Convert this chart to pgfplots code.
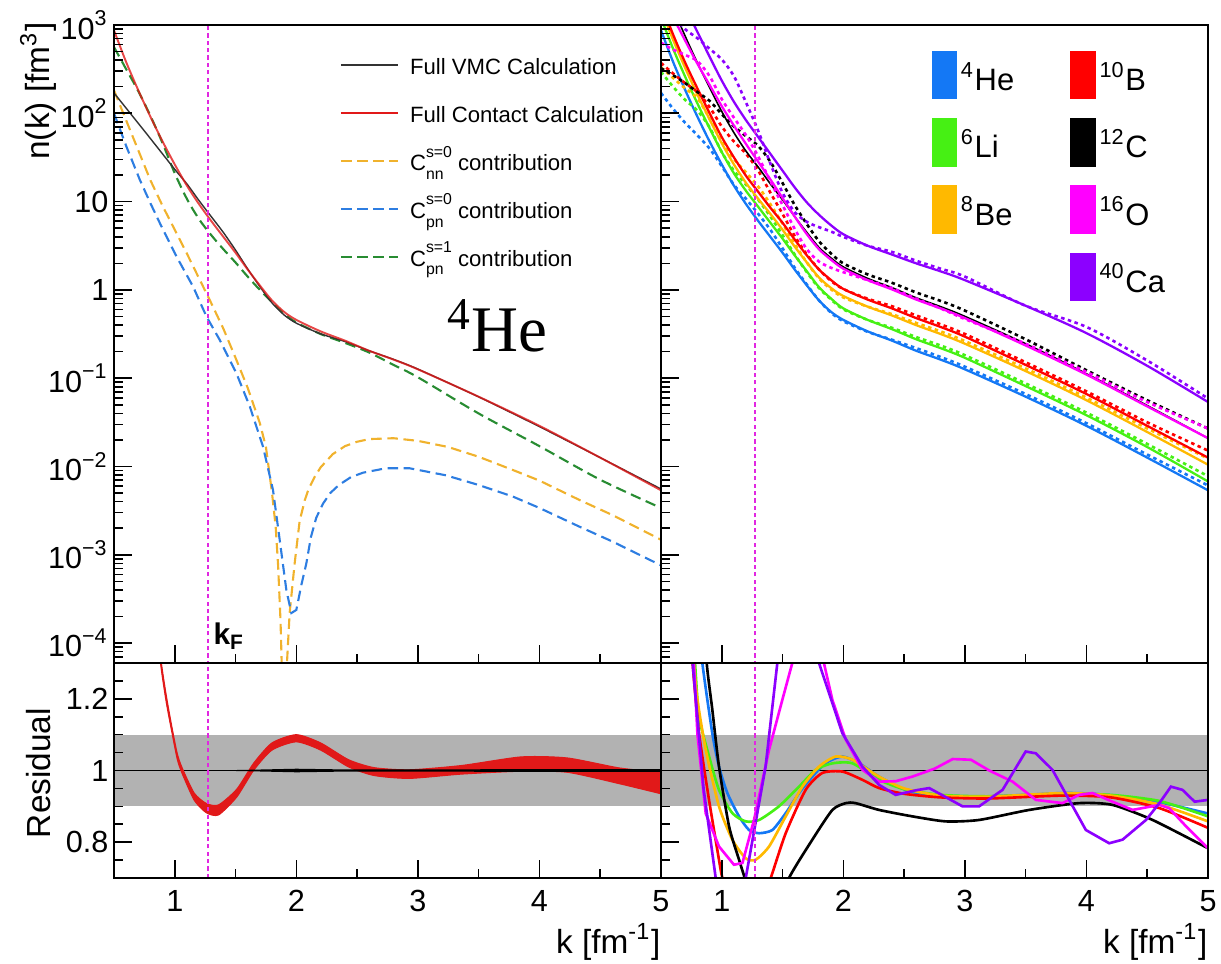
\documentclass[border=0pt]{standalone}
\usepackage{fontspec}
\setmainfont{Liberation Sans}
\newfontfamily\heserif{Liberation Serif}
\usepackage{pgfplots}
\pgfplotsset{compat=1.18}

\definecolor{vmcgray}{RGB}{50,50,50}
\definecolor{ctred}{RGB}{225,25,25}
\definecolor{dorange}{RGB}{240,178,45}
\definecolor{dblue}{RGB}{45,125,225}
\definecolor{dgreen}{RGB}{40,140,50}
\definecolor{kfmag}{RGB}{225,40,225}
\definecolor{bandgray}{RGB}{178,178,178}
\definecolor{nHe}{RGB}{20,120,245}
\definecolor{nLi}{RGB}{70,240,20}
\definecolor{nBe}{RGB}{255,185,0}
\definecolor{nB}{RGB}{255,0,0}
\definecolor{nC}{RGB}{0,0,0}
\definecolor{nO}{RGB}{255,0,255}
\definecolor{nCa}{RGB}{140,0,255}

% legend label C with stacked super- and subscript
\newcommand{\Cst}[2]{C\makebox[0pt][l]{\raisebox{-0.38em}{\fontsize{4.5}{5}\selectfont #2}}\raisebox{0.62em}{\fontsize{4.5}{5}\selectfont #1}}

\pgfplotsset{
  panel/.style={
    scale only axis, width=54.7mm,
    xmin=0.5, xmax=5,
    axis on top,
    axis line style={line width=0.45pt},
    tick style={black, line width=0.45pt},
    tick align=inside,
    major tick length=1.8mm, minor tick length=0.9mm,
    xtick pos=bottom, ytick pos=left,
    xtick={1,2,3,4,5},
    minor xtick={1.5,2.5,3.5,4.5},
    ticklabel style={font=\fontsize{8.7}{10}\selectfont},
    yticklabel style={inner xsep=0.5mm},
    /pgf/number format/assume math mode=true,
    ylabel style={font=\fontsize{9.5}{11}\selectfont, inner sep=0pt},
  },
  logpanel/.style={panel, height=63.8mm,
    ymin=-4.226, ymax=3,
    ytick={-4,-3,-2,-1,0,1,2,3},
    minor ytick={-4.222,-4.155,-4.097,-4.046,
      -3.699,-3.523,-3.398,-3.301,-3.222,-3.155,-3.097,-3.046,
      -2.699,-2.523,-2.398,-2.301,-2.222,-2.155,-2.097,-2.046,
      -1.699,-1.523,-1.398,-1.301,-1.222,-1.155,-1.097,-1.046,
      -0.699,-0.523,-0.398,-0.301,-0.222,-0.155,-0.097,-0.046,
      0.301,0.477,0.602,0.699,0.778,0.845,0.903,0.954,
      1.301,1.477,1.602,1.699,1.778,1.845,1.903,1.954,
      2.301,2.477,2.602,2.699,2.778,2.845,2.903,2.954},
    xticklabels={},
  },
  respanel/.style={panel, height=21.5mm,
    ymin=0.7, ymax=1.3,
    ytick={0.8,1,1.2},
    minor ytick={0.75,0.85,0.9,0.95,1.05,1.1,1.15,1.25},
    xlabel={k [fm\textsuperscript{-1}]},
    xlabel style={font=\fontsize{9.5}{11}\selectfont, at={(axis description cs:1,-0.349)}, anchor=base east, inner sep=0pt},
  },
  kfline/.style={kfmag, line width=0.6pt, dash pattern=on 1.2pt off 0.9pt},
  dsh/.style={line width=0.6pt, dash pattern=on 3pt off 1.6pt},
  sol/.style={line width=0.65pt, smooth, tension=0.5},
  dot/.style={line width=0.75pt, dash pattern=on 1pt off 1pt, smooth, tension=0.5},
  res/.style={line width=0.75pt},
}

\begin{document}
\begin{tikzpicture}

% ---------------- top left: 4He momentum distribution ----------------
\begin{axis}[logpanel, at={(11.4mm,30mm)}, anchor=south west,
  yticklabels={10\textsuperscript{−4},10\textsuperscript{−3},10\textsuperscript{−2},10\textsuperscript{−1},1,10,10\textsuperscript{2},10\textsuperscript{3}},
  ylabel={n(k) [fm\textsuperscript{3}]},
  ylabel style={at={(axis description cs:-0.138,1.005)}, anchor=east},
  legend image code/.code={\draw[#1] (0mm,0mm) -- (5.7mm,0mm);},
  legend cell align=left,
  legend style={at={(axis description cs:0.413,0.9577)}, anchor=north west,
    draw=none, fill=none, inner sep=0pt, outer sep=0pt,
    font=\fontsize{6.3}{7}\selectfont, row sep=2.19mm, column sep=0.8mm,
    nodes={inner sep=0.3mm, text height=2.0mm, text depth=0pt}},
]
\addlegendimage{vmcgray, line width=0.45pt}
\addlegendentry{Full VMC Calculation}
\addlegendimage{ctred, line width=0.45pt}
\addlegendentry{Full Contact Calculation}
\addlegendimage{dorange, dsh}
\addlegendentry{\Cst{s=0}{nn} contribution}
\addlegendimage{dblue, dsh}
\addlegendentry{\Cst{s=0}{pn} contribution}
\addlegendimage{dgreen, dsh}
\addlegendentry{\Cst{s=1}{pn} contribution}

% C_pn s=1
\addplot[dgreen, dsh, smooth, tension=0.5, forget plot] coordinates {
(0.5,2.75)(0.6,2.50)(0.7,2.25)(0.8,1.97)(0.9,1.66)(1.0,1.32)(1.1,1.03)(1.2,0.80)(1.3,0.62)(1.4,0.46)(1.5,0.31)(1.6,0.15)(1.7,0.0)(1.8,-0.14)(1.9,-0.27)(2.0,-0.37)(2.2,-0.50)(2.4,-0.60)(2.6,-0.71)(2.8,-0.85)(3.0,-0.99)(3.5,-1.40)(4.0,-1.77)(4.5,-2.15)(5.0,-2.47)};
% C_nn s=0
\addplot[dorange, dsh, forget plot] coordinates {
(0.5,2.26)(0.6,1.92)(0.7,1.58)(0.8,1.24)(0.9,0.95)(1.0,0.68)(1.1,0.41)(1.2,0.13)(1.3,-0.15)(1.4,-0.44)(1.5,-0.77)(1.6,-1.11)(1.7,-1.51)(1.75,-1.78)(1.8,-2.3)(1.83,-2.68)(1.85,-3.12)(1.87,-3.75)(1.895,-5)(1.92,-4.3)(1.945,-3.66)(1.986,-3.10)(2.027,-2.62)(2.07,-2.38)(2.1,-2.26)(2.15,-2.12)(2.2,-2.01)(2.3,-1.86)(2.4,-1.77)(2.5,-1.72)(2.6,-1.69)(2.8,-1.68)(3.0,-1.71)(3.25,-1.78)(3.5,-1.89)(3.8,-2.05)(4.0,-2.16)(4.33,-2.38)(4.6,-2.55)(5.0,-2.83)};
% C_pn s=0
\addplot[dblue, dsh, forget plot] coordinates {
(0.5,2.0)(0.6,1.63)(0.713,1.245)(0.8,0.98)(0.878,0.754)(1.015,0.376)(1.151,0.036)(1.261,-0.303)(1.37,-0.567)(1.507,-0.945)(1.617,-1.32)(1.726,-1.776)(1.808,-2.266)(1.863,-2.83)(1.918,-3.40)(1.959,-3.66)(2.0,-3.625)(2.04,-3.35)(2.082,-3.10)(2.12,-2.80)(2.164,-2.58)(2.22,-2.42)(2.28,-2.30)(2.35,-2.21)(2.45,-2.12)(2.55,-2.07)(2.739,-2.02)(2.93,-2.02)(3.23,-2.10)(3.5,-2.21)(3.78,-2.34)(4.0,-2.47)(4.326,-2.68)(4.6,-2.85)(5.0,-3.12)};
% full VMC
\addplot[vmcgray, line width=0.4pt, smooth, tension=0.4, forget plot] coordinates {
(0.5,2.23)(0.75,1.80)(1.0,1.365)(1.1,1.20)(1.2,1.01)(1.3,0.83)(1.4,0.65)(1.5,0.45)(1.6,0.237)(1.7,0.037)(1.8,-0.148)(1.9,-0.285)(2.0,-0.377)(2.2,-0.498)(2.4,-0.585)(2.6,-0.69)(2.8,-0.787)(3.0,-0.897)(3.5,-1.212)(4.0,-1.549)(4.5,-1.90)(5.0,-2.255)};
% full contact
\addplot[ctred, line width=0.55pt, opacity=0.8, smooth, tension=0.5, forget plot] coordinates {
(0.5,2.94)(0.6,2.58)(0.7,2.26)(0.8,1.96)(0.9,1.68)(1.0,1.42)(1.1,1.18)(1.2,0.97)(1.3,0.78)(1.4,0.60)(1.5,0.42)(1.6,0.23)(1.7,0.05)(1.8,-0.12)(1.9,-0.25)(2.0,-0.34)(2.2,-0.47)(2.4,-0.575)(2.6,-0.69)(2.8,-0.79)(3.0,-0.90)(3.5,-1.21)(4.0,-1.54)(4.5,-1.90)(5.0,-2.27)};
\addplot[kfline, forget plot] coordinates {(1.27,-5)(1.27,4)};
\node[anchor=base west, inner sep=0pt, font=\fontsize{8.5}{10}\selectfont\bfseries] at (axis cs:1.313,-4.02) {k\textsubscript{F}};
\node[anchor=base west, inner sep=0pt, font=\heserif\fontsize{18.5}{20}\selectfont] at (axis cs:3.234,-0.70) {\textsuperscript{4}He};
\end{axis}

% ---------------- bottom left: residual ----------------
\begin{axis}[respanel, at={(11.4mm,8.5mm)}, anchor=south west,
  ylabel={Residual},
  ylabel style={at={(axis description cs:-0.138,0.488)}, anchor=center},
]
\addplot[fill=bandgray, draw=none] coordinates {(0.5,0.9)(5,0.9)(5,1.1)(0.5,1.1)};
\addplot[black, line width=0.4pt] coordinates {(0.5,1)(5,1)};
\addplot[fill=ctred, draw=ctred, line width=0.3pt, smooth, tension=0.4] coordinates {
(0.84,1.46)(0.886,1.31)(0.93,1.21)(0.973,1.128)(1.02,1.048)(1.06,1.008)(1.16,0.937)(1.26,0.908)(1.36,0.904)(1.51,0.948)(1.65,1.021)(1.80,1.077)(2.0,1.10)(2.2,1.077)(2.43,1.03)(2.64,1.008)(2.93,1.002)(3.36,1.014)(3.85,1.038)(4.23,1.035)(4.66,1.007)(5.0,0.995)(5.05,0.99)
(5.05,0.93)(5.0,0.935)(4.66,0.963)(4.23,0.995)(3.85,0.998)(3.36,0.99)(2.93,0.978)(2.64,0.986)(2.43,1.01)(2.2,1.057)(2.0,1.08)(1.80,1.057)(1.65,1.001)(1.51,0.926)(1.36,0.876)(1.26,0.882)(1.16,0.917)(1.06,0.992)(1.02,1.032)(0.973,1.112)(0.93,1.19)(0.886,1.29)(0.84,1.44)};
\addplot[fill=black, draw=none] coordinates {
(1.3,1.0)(1.6,1.002)(2.0,1.005)(2.4,1.003)(3.0,1.003)(4.0,1.004)(5.0,1.004)
(5.0,0.996)(4.0,0.996)(3.0,0.997)(2.4,0.997)(2.0,0.995)(1.6,0.998)(1.3,1.0)};
\addplot[kfline] coordinates {(1.27,0)(1.27,2)};
\end{axis}

% ---------------- top right: all nuclei ----------------
\begin{axis}[logpanel, at={(66.1mm,30mm)}, anchor=south west,
  yticklabels={},
  legend columns=2,
  legend cell align=left,
  legend image code/.code={\fill[#1] (0mm,-2.35mm) rectangle (2.4mm,2.35mm);},
  legend style={at={(axis description cs:0.4945,0.9592)}, anchor=north west,
    draw=none, fill=none, inner sep=0pt, outer sep=0pt,
    font=\fontsize{8.8}{10}\selectfont, row sep=1.88mm, column sep=0.1mm,
    nodes={inner sep=0.3mm, text height=3.1mm, text depth=0pt},
    /tikz/column 2/.style={column sep=5.3mm}},
]
\addlegendimage{nHe}\addlegendentry{\textsuperscript{4}He}
\addlegendimage{nB}\addlegendentry{\textsuperscript{10}B}
\addlegendimage{nLi}\addlegendentry{\textsuperscript{6}Li}
\addlegendimage{nC}\addlegendentry{\textsuperscript{12}C}
\addlegendimage{nBe}\addlegendentry{\textsuperscript{8}Be}
\addlegendimage{nO}\addlegendentry{\textsuperscript{16}O}
\addlegendimage{empty legend}\addlegendentry{}
\addlegendimage{nCa}\addlegendentry{\textsuperscript{40}Ca}

% 4He
\addplot[nHe, dot, forget plot] coordinates {
(0.5,2.23)(0.6,2.05)(0.7,1.89)(0.8,1.75)(0.9,1.60)(1.0,1.40)(1.1,1.19)(1.2,1.03)(1.3,0.86)(1.4,0.68)(1.5,0.47)(1.6,0.25)(1.7,0.06)(1.8,-0.12)(1.9,-0.26)(2.0,-0.355)(2.2,-0.475)(2.4,-0.565)(2.6,-0.66)(2.8,-0.76)(3.0,-0.87)(3.5,-1.18)(4.0,-1.51)(4.5,-1.865)(5.0,-2.215)};
\addplot[nHe, sol, forget plot] coordinates {
(0.5,2.94)(0.6,2.58)(0.7,2.26)(0.8,1.96)(0.9,1.68)(1.0,1.42)(1.1,1.18)(1.2,0.97)(1.3,0.78)(1.4,0.60)(1.5,0.42)(1.6,0.23)(1.7,0.05)(1.8,-0.12)(1.9,-0.25)(2.0,-0.34)(2.2,-0.47)(2.4,-0.575)(2.6,-0.69)(2.8,-0.79)(3.0,-0.90)(3.5,-1.21)(4.0,-1.54)(4.5,-1.90)(5.0,-2.27)};
% 6Li
\addplot[nLi, dot, forget plot] coordinates {
(0.5,2.47)(0.6,2.30)(0.7,2.15)(0.8,2.03)(0.9,1.84)(1.0,1.56)(1.1,1.35)(1.2,1.19)(1.3,1.02)(1.4,0.83)(1.5,0.62)(1.6,0.40)(1.7,0.20)(1.8,0.02)(1.9,-0.11)(2.0,-0.22)(2.2,-0.34)(2.4,-0.43)(2.6,-0.535)(2.8,-0.63)(3.0,-0.74)(3.5,-1.06)(4.0,-1.39)(4.5,-1.745)(5.0,-2.11)};
\addplot[nLi, sol, forget plot] coordinates {
(0.5,3.08)(0.6,2.73)(0.7,2.41)(0.8,2.11)(0.9,1.83)(1.0,1.56)(1.1,1.32)(1.2,1.12)(1.3,0.94)(1.4,0.76)(1.5,0.58)(1.6,0.39)(1.7,0.21)(1.8,0.03)(1.9,-0.10)(2.0,-0.21)(2.2,-0.34)(2.4,-0.445)(2.6,-0.56)(2.8,-0.66)(3.0,-0.77)(3.5,-1.09)(4.0,-1.42)(4.5,-1.78)(5.0,-2.17)};
% 8Be
\addplot[nBe, dot, forget plot] coordinates {
(0.5,2.52)(0.6,2.40)(0.7,2.28)(0.8,2.17)(0.9,1.94)(1.0,1.68)(1.1,1.48)(1.2,1.33)(1.3,1.17)(1.4,0.97)(1.5,0.75)(1.6,0.52)(1.7,0.31)(1.8,0.13)(1.9,0.005)(2.0,-0.086)(2.2,-0.19)(2.4,-0.275)(2.6,-0.375)(2.8,-0.47)(3.0,-0.58)(3.5,-0.89)(4.0,-1.22)(4.5,-1.57)(5.0,-1.91)};
\addplot[nBe, sol, forget plot] coordinates {
(0.5,3.18)(0.6,2.83)(0.7,2.51)(0.8,2.21)(0.9,1.93)(1.0,1.66)(1.1,1.42)(1.2,1.21)(1.3,1.03)(1.4,0.86)(1.5,0.68)(1.6,0.49)(1.7,0.31)(1.8,0.14)(1.9,0.02)(2.0,-0.07)(2.2,-0.19)(2.4,-0.29)(2.6,-0.40)(2.8,-0.50)(3.0,-0.61)(3.5,-0.92)(4.0,-1.25)(4.5,-1.61)(5.0,-1.98)};
% 10B
\addplot[nB, dot, forget plot] coordinates {
(0.5,2.57)(0.6,2.45)(0.7,2.34)(0.8,2.24)(0.9,2.07)(1.0,1.85)(1.1,1.68)(1.2,1.54)(1.3,1.35)(1.4,1.10)(1.5,0.86)(1.6,0.61)(1.7,0.40)(1.8,0.23)(1.9,0.10)(2.0,0.01)(2.2,-0.10)(2.4,-0.185)(2.6,-0.29)(2.8,-0.39)(3.0,-0.50)(3.5,-0.82)(4.0,-1.15)(4.5,-1.50)(5.0,-1.82)};
\addplot[nB, sol, forget plot] coordinates {
(0.5,3.24)(0.6,2.89)(0.7,2.57)(0.8,2.28)(0.9,2.00)(1.0,1.73)(1.1,1.50)(1.2,1.29)(1.3,1.11)(1.4,0.93)(1.5,0.76)(1.6,0.57)(1.7,0.39)(1.8,0.23)(1.9,0.11)(2.0,0.01)(2.2,-0.11)(2.4,-0.21)(2.6,-0.32)(2.8,-0.42)(3.0,-0.53)(3.5,-0.85)(4.0,-1.18)(4.5,-1.54)(5.0,-1.90)};
% 12C
\addplot[nC, dot, forget plot] coordinates {
(0.5,2.51)(0.6,2.43)(0.7,2.34)(0.8,2.24)(0.9,2.14)(1.0,1.99)(1.1,1.85)(1.2,1.74)(1.3,1.63)(1.4,1.45)(1.5,1.21)(1.6,0.96)(1.7,0.745)(1.8,0.55)(1.9,0.41)(2.0,0.30)(2.2,0.175)(2.4,0.08)(2.6,-0.03)(2.8,-0.125)(3.0,-0.235)(3.5,-0.56)(4.0,-0.91)(4.5,-1.25)(5.0,-1.57)};
\addplot[nC, line width=0.45pt, smooth, tension=0.5, forget plot] coordinates {
(0.5,3.54)(0.6,3.19)(0.7,2.87)(0.8,2.57)(0.9,2.29)(1.0,2.02)(1.1,1.78)(1.2,1.57)(1.3,1.39)(1.4,1.20)(1.5,1.02)(1.6,0.83)(1.7,0.65)(1.8,0.48)(1.9,0.36)(2.0,0.26)(2.2,0.13)(2.4,0.025)(2.6,-0.09)(2.8,-0.19)(3.0,-0.30)(3.5,-0.61)(4.0,-0.95)(4.5,-1.31)(5.0,-1.68)};
% 16O
\addplot[nO, dot, forget plot] coordinates {
(0.5,2.80)(0.6,2.72)(0.7,2.66)(0.8,2.59)(0.9,2.42)(1.0,2.16)(1.1,1.95)(1.2,1.75)(1.3,1.51)(1.4,1.23)(1.5,0.96)(1.6,0.69)(1.7,0.46)(1.8,0.32)(1.9,0.25)(2.0,0.20)(2.2,0.11)(2.4,0.02)(2.6,-0.10)(2.8,-0.21)(3.0,-0.33)(3.5,-0.61)(4.0,-0.93)(4.5,-1.27)(5.0,-1.57)};
\addplot[nO, sol, forget plot] coordinates {
(0.5,3.39)(0.6,3.09)(0.7,2.82)(0.8,2.56)(0.9,2.32)(1.0,2.08)(1.1,1.86)(1.2,1.65)(1.3,1.45)(1.4,1.25)(1.5,1.04)(1.6,0.83)(1.7,0.63)(1.8,0.46)(1.9,0.34)(2.0,0.24)(2.2,0.11)(2.4,0.005)(2.6,-0.11)(2.8,-0.21)(3.0,-0.32)(3.5,-0.63)(4.0,-0.96)(4.5,-1.32)(5.0,-1.68)};
% 40Ca
\addplot[nCa, dot, forget plot] coordinates {
(0.5,3.25)(0.6,3.10)(0.7,2.95)(0.8,2.85)(0.9,2.73)(1.0,2.61)(1.1,2.42)(1.2,2.12)(1.3,1.80)(1.4,1.43)(1.5,1.10)(1.6,0.88)(1.7,0.77)(1.8,0.71)(1.9,0.66)(2.0,0.60)(2.2,0.50)(2.4,0.43)(2.6,0.33)(2.8,0.24)(3.0,0.15)(3.5,-0.18)(4.0,-0.42)(4.5,-0.80)(5.0,-1.23)};
\addplot[nCa, sol, forget plot] coordinates {
(0.5,3.8)(0.6,3.5)(0.7,3.2)(0.8,2.92)(0.9,2.64)(1.0,2.37)(1.1,2.13)(1.2,1.92)(1.3,1.73)(1.4,1.54)(1.5,1.35)(1.6,1.16)(1.7,0.99)(1.8,0.85)(1.9,0.73)(2.0,0.63)(2.2,0.50)(2.4,0.40)(2.6,0.30)(2.8,0.21)(3.0,0.11)(3.5,-0.18)(4.0,-0.49)(4.5,-0.86)(5.0,-1.27)};
\addplot[kfline, forget plot] coordinates {(1.27,-5)(1.27,4)};
\end{axis}

% ---------------- bottom right: residuals ----------------
\begin{axis}[respanel, at={(66.1mm,8.5mm)}, anchor=south west,
  yticklabels={},
]
\addplot[fill=bandgray, draw=none] coordinates {(0.5,0.9)(5,0.9)(5,1.1)(0.5,1.1)};
\addplot[black, line width=0.4pt] coordinates {(0.5,1)(5,1)};
\addplot[nHe, res, smooth, tension=0.4] coordinates {
(0.80,1.45)(0.84,1.30)(0.922,1.104)(0.977,1.011)(1.046,0.937)(1.142,0.872)(1.224,0.834)(1.307,0.825)(1.416,0.834)(1.526,0.881)(1.636,0.937)(1.745,0.983)(1.855,1.021)(1.992,1.039)(2.13,1.02)(2.294,0.983)(2.45,0.955)(2.568,0.94)(2.8,0.93)(3.117,0.927)(3.5,0.932)(3.803,0.937)(4.0,0.936)(4.21,0.93)(4.62,0.91)(5.0,0.88)};
\addplot[nLi, res, smooth, tension=0.4] coordinates {
(0.75,1.45)(0.78,1.30)(0.813,1.15)(0.895,1.04)(0.977,0.946)(1.087,0.881)(1.197,0.858)(1.307,0.862)(1.47,0.90)(1.636,0.955)(1.773,1.002)(1.91,1.02)(2.075,1.02)(2.294,0.974)(2.5,0.948)(2.8,0.932)(3.2,0.928)(3.8,0.935)(4.2,0.932)(4.6,0.915)(5.0,0.872)};
\addplot[nBe, res, smooth, tension=0.4] coordinates {
(0.74,1.45)(0.77,1.30)(0.80,1.197)(0.868,1.058)(0.977,0.90)(1.087,0.807)(1.197,0.755)(1.279,0.751)(1.389,0.788)(1.526,0.872)(1.663,0.955)(1.80,1.011)(1.938,1.039)(2.075,1.03)(2.294,0.983)(2.5,0.95)(2.8,0.93)(3.2,0.927)(3.8,0.937)(4.2,0.93)(4.6,0.905)(5.0,0.858)};
\addplot[nB, res, smooth, tension=0.4] coordinates {
(0.74,1.45)(0.76,1.30)(0.813,1.104)(0.895,0.918)(0.977,0.751)(1.005,0.70)(1.1,0.58)(1.2,0.55)(1.3,0.60)(1.403,0.70)(1.526,0.825)(1.69,0.946)(1.827,0.993)(1.992,0.997)(2.157,0.974)(2.294,0.951)(2.5,0.935)(2.8,0.925)(3.2,0.922)(3.8,0.93)(4.2,0.925)(4.6,0.895)(5.0,0.84)};
\addplot[nC, res, smooth, tension=0.4] coordinates {
(0.86,1.45)(0.876,1.30)(0.922,1.17)(0.977,1.011)(1.06,0.844)(1.142,0.751)(1.189,0.70)(1.3,0.58)(1.45,0.60)(1.553,0.70)(1.745,0.807)(1.91,0.89)(2.02,0.909)(2.1,0.909)(2.294,0.89)(2.568,0.872)(2.843,0.858)(3.117,0.862)(3.529,0.89)(3.94,0.909)(4.214,0.904)(4.544,0.862)(5.0,0.783)};
\addplot[nO, res] coordinates {
(0.74,1.45)(0.77,1.30)(0.80,1.10)(0.868,0.88)(0.977,0.788)(1.10,0.737)(1.17,0.742)(1.265,0.862)(1.389,1.058)(1.498,1.197)(1.58,1.30)(1.65,1.45)(1.75,1.5)(1.80,1.40)(1.84,1.30)(1.91,1.197)(2.02,1.086)(2.157,1.002)(2.294,0.969)(2.43,0.97)(2.568,0.983)(2.75,1.005)(2.9,1.032)(3.05,1.03)(3.2,1.0)(3.392,0.969)(3.584,0.918)(3.803,0.909)(3.94,0.932)(4.05,0.937)(4.214,0.913)(4.38,0.89)(4.6,0.904)(4.68,0.895)(4.82,0.844)(5.0,0.783)};
\addplot[nCa, res] coordinates {
(0.73,1.45)(0.76,1.30)(0.85,0.95)(0.95,0.70)(1.07,0.55)(1.197,0.70)(1.36,1.01)(1.457,1.30)(1.52,1.50)(1.75,1.5)(1.80,1.30)(1.992,1.104)(2.157,1.011)(2.294,0.96)(2.43,0.932)(2.6,0.945)(2.706,0.951)(2.82,0.93)(2.98,0.90)(3.117,0.90)(3.31,0.946)(3.50,1.053)(3.584,1.048)(3.72,1.002)(3.858,0.918)(3.995,0.834)(4.187,0.797)(4.297,0.807)(4.49,0.862)(4.6,0.909)(4.695,0.955)(4.79,0.946)(4.89,0.913)(5.0,0.918)};
\addplot[kfline] coordinates {(1.27,0)(1.27,2)};
\end{axis}

\pgfresetboundingbox
\path[use as bounding box] (0,0) rectangle (122.1mm,96.3mm);
\end{tikzpicture}
\end{document}
